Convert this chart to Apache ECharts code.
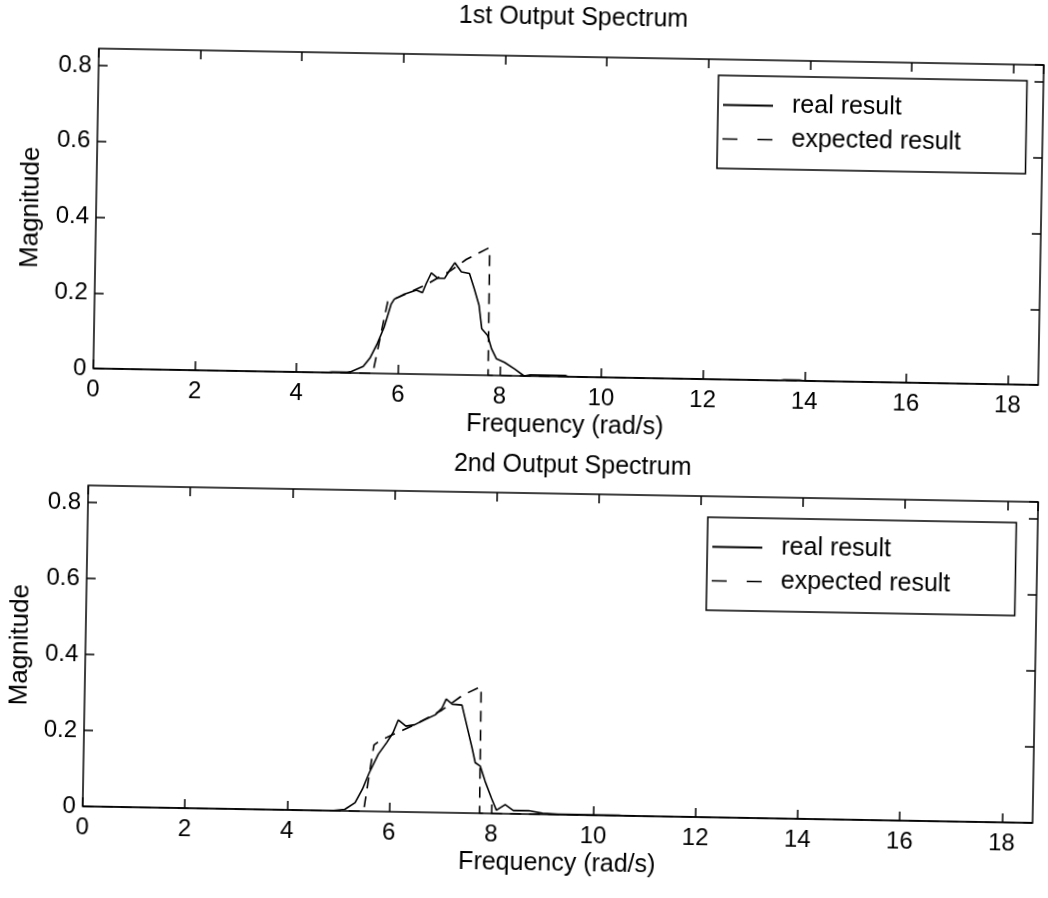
<!DOCTYPE html>
<html>
<head>
<meta charset="utf-8">
<script src="https://cdn.jsdelivr.net/npm/echarts@6/dist/echarts.min.js"></script>
<style>
html,body{margin:0;padding:0;background:#fff;overflow:hidden;}
#chart{width:1048px;height:898px;transform:rotate(1deg);transform-origin:524px 449px;}
</style>
</head>
<body>
<div id="chart"></div>
<script>
// ---- data ----
var titles = ['1st Output Spectrum', '2nd Output Spectrum'];
var xTickLabels = ['0','2','4','6','8','10','12','14','16','18'];
var yTickLabels = ['0','0.2','0.4','0.6','0.8'];
var seriesNames = ['real result', 'expected result'];

var topRealX = [0, 4.6, 4.7, 5.0, 5.08, 5.31, 5.44, 5.58, 5.71, 5.84, 5.90, 6.07, 6.25, 6.33, 6.45, 6.52, 6.62, 6.75, 6.88, 6.98, 7.08, 7.21, 7.37, 7.47, 7.57, 7.63, 7.75, 7.83, 7.93, 8.09, 8.29, 8.48, 8.6, 9.3, 9.35, 13.5, 13.6, 13.9, 14.0, 18.6];
var topRealY = [0, 0, 0.002, 0.002, 0.004, 0.018, 0.040, 0.079, 0.123, 0.184, 0.197, 0.209, 0.218, 0.222, 0.215, 0.239, 0.268, 0.254, 0.254, 0.276, 0.296, 0.272, 0.268, 0.228, 0.184, 0.123, 0.105, 0.070, 0.044, 0.035, 0.018, 0, 0.003, 0.003, 0, 0, 0.002, 0.002, 0, 0];

var topExpX = [0, 5.5, 5.77, 6.0, 6.5, 7.0, 7.3, 7.72, 7.76, 7.77, 18.6];
var topExpY = [0, 0, 0.19, 0.203, 0.235, 0.275, 0.305, 0.335, 0.335, 0, 0];

var botRealX = [0, 4.87, 5.13, 5.33, 5.47, 5.60, 5.77, 5.93, 6.05, 6.15, 6.30, 6.47, 6.67, 6.87, 7.00, 7.08, 7.20, 7.39, 7.50, 7.60, 7.67, 7.77, 7.87, 8.00, 8.10, 8.27, 8.43, 8.73, 9.00, 9.30, 10.5, 10.6, 18.6];
var botRealY = [0, 0, 0.004, 0.022, 0.058, 0.102, 0.151, 0.182, 0.208, 0.242, 0.226, 0.230, 0.244, 0.257, 0.275, 0.299, 0.286, 0.284, 0.226, 0.173, 0.133, 0.124, 0.084, 0.040, 0.009, 0.024, 0.009, 0.009, 0.003, 0.001, 0.001, 0, 0];

var botExpX = [0, 5.5, 5.68, 5.8, 6.0, 6.5, 7.0, 7.4, 7.7, 7.76, 7.77, 18.6];
var botExpY = [0, 0, 0.175, 0.187, 0.2, 0.232, 0.27, 0.31, 0.33, 0.332, 0, 0];

function pairs(xs, ys){ var o=[]; for(var i=0;i<xs.length;i++){ o.push([xs[i], ys[i]]); } return o; }

var FONT = 'Liberation Sans';
var FS = 25, TICKFS = 24;
var XMAX = 18.6, YMAX = 0.845;

function xAx(gi, pos){
  var main = pos === 'bottom';
  return {
    type:'value', gridIndex:gi, position:pos, min:0, max:XMAX, interval:2,
    name: main ? 'Frequency (rad/s)' : '', nameLocation:'middle', nameGap:37,
    nameTextStyle:{fontFamily:FONT, fontSize:FS, color:'#000'},
    axisLine:{show:false, onZero:false},
    axisTick:{show:true, inside:true, length:9, lineStyle:{color:'#000', width:1.5}},
    axisLabel:{show:main, showMaxLabel:false, margin:9, fontFamily:FONT, fontSize:TICKFS, color:'#000',
      formatter:function(v){ var i=Math.round(v/2); return xTickLabels[i]; }},
    splitLine:{show:false}
  };
}
function yAx(gi, pos){
  var main = pos === 'left';
  return {
    type:'value', gridIndex:gi, position:pos, min:0, max:YMAX, interval:0.2,
    name: main ? 'Magnitude' : '', nameLocation:'middle', nameGap:52, nameRotate:90,
    nameTextStyle:{fontFamily:FONT, fontSize:FS+1, color:'#000'},
    axisLine:{show:false, onZero:false},
    axisTick:{show:true, inside:true, length:9, lineStyle:{color:'#000', width:1.5}},
    axisLabel:{show:main, showMaxLabel:false, margin:7, fontFamily:FONT, fontSize:TICKFS, color:'#000',
      formatter:function(v){ var i=Math.round(v/0.2); return yTickLabels[i]; }},
    splitLine:{show:false}
  };
}
function lineSeries(name, xi, yi, data, dashed){
  return {
    name:name, type:'line', xAxisIndex:xi, yAxisIndex:yi, data:data,
    showSymbol:false, symbol:'none', animation:false, silent:true,
    lineStyle:{color:'#000', width:1.6, type: dashed ? [11,8] : 'solid'},
    itemStyle:{color:'#000'}
  };
}
function legend(left, top){
  return {
    orient:'vertical', left:left, top:top,
    data:[
      {name:seriesNames[0]},
      {name:seriesNames[1], lineStyle:{type:[15,20], width:1.6, color:'#000'}}
    ],
    itemWidth:50, itemHeight:14, itemGap:9,
    padding:[17, 65, 17, 4],
    borderColor:'#000', borderWidth:1.5, backgroundColor:'#fff',
    itemStyle:{opacity:0},
    textStyle:{fontFamily:FONT, fontSize:FS, color:'#000', padding:[0,0,0,14]},
    selectedMode:false
  };
}

var option = {
  backgroundColor:'#fff',
  animation:false,
  title:[
    {text:titles[0], left:561, top:0, textAlign:'center', textStyle:{fontFamily:FONT, fontSize:FS, fontWeight:'normal', color:'#000'}},
    {text:titles[1], left:568, top:448, textAlign:'center', textStyle:{fontFamily:FONT, fontSize:FS, fontWeight:'normal', color:'#000'}}
  ],
  grid:[
    {left:92, top:56, width:945, height:320, show:true, borderColor:'#000', borderWidth:1.5, backgroundColor:'transparent'},
    {left:89, top:493, width:950, height:321, show:true, borderColor:'#000', borderWidth:1.5, backgroundColor:'transparent'}
  ],
  xAxis:[ xAx(0,'bottom'), xAx(0,'top'), xAx(1,'bottom'), xAx(1,'top') ],
  yAxis:[ yAx(0,'left'), yAx(0,'right'), yAx(1,'left'), yAx(1,'right') ],
  legend:[ legend(712, 72), legend(709, 514) ],
  series:[
    lineSeries(seriesNames[0], 0, 0, pairs(topRealX, topRealY), false),
    lineSeries(seriesNames[1], 0, 0, pairs(topExpX, topExpY), true),
    lineSeries(seriesNames[0], 2, 2, pairs(botRealX, botRealY), false),
    lineSeries(seriesNames[1], 2, 2, pairs(botExpX, botExpY), true)
  ]
};
var chart = echarts.init(document.getElementById('chart'), null, {renderer:'canvas', width:1048, height:898});
chart.setOption(option);
</script>
</body>
</html>
